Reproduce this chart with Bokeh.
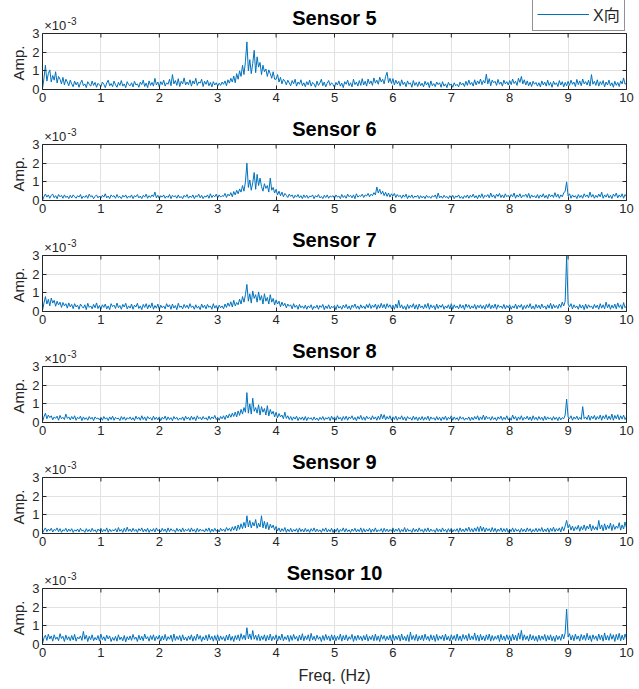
from bokeh.plotting import figure
from bokeh.layouts import column
from bokeh.models import (Range1d, FixedTicker, LinearAxis, Label, Legend,
                          LegendItem, CustomJSTickFormatter, Span, Title)
from bokeh.embed import file_html
from bokeh.resources import INLINE

# ---------------- data (amplitude in units of 1e-3) ----------------
freq = [round(i * 0.025, 3) for i in range(401)]   # frequency grid, Hz

titles = ["Sensor 5", "Sensor 6", "Sensor 7", "Sensor 8", "Sensor 9", "Sensor 10"]
x_ticks = [0, 1, 2, 3, 4, 5, 6, 7, 8, 9, 10]
y_ticks = [0, 1, 2, 3]
legend_label = "X向"

s5 = [0.05, 0.60, 1.30, 0.45, 0.85, 1.05, 0.40, 0.75, 0.50, 0.95, 0.35, 0.70, 0.55, 0.30, 0.65, 0.25, 0.55, 0.40, 0.20, 0.50,
      0.30, 0.15, 0.45, 0.25, 0.40, 0.12, 0.35, 0.50, 0.20, 0.30, 0.10, 0.42, 0.28, 0.18, 0.45, 0.22, 0.38, 0.12, 0.33, 0.25,
      0.15, 0.40, 0.28, 0.10, 0.35, 0.50, 0.20, 0.32, 0.15, 0.45, 0.25, 0.12, 0.38, 0.22, 0.48, 0.18, 0.30, 0.10, 0.42, 0.26,
      0.20, 0.36, 0.14, 0.44, 0.24, 0.30, 0.12, 0.40, 0.26, 0.50, 0.16, 0.34, 0.10, 0.46, 0.22, 0.38, 0.18, 0.60, 0.24, 0.40,
      0.14, 0.42, 0.26, 0.50, 0.18, 0.36, 0.28, 0.55, 0.20, 0.80, 0.30, 0.48, 0.22, 0.58, 0.16, 0.44, 0.30, 0.62, 0.24, 0.40,
      0.26, 0.52, 0.18, 0.46, 0.30, 0.60, 0.22, 0.40, 0.34, 0.55, 0.16, 0.44, 0.28, 0.50, 0.20, 0.38, 0.14, 0.42, 0.24, 0.36,
      0.18, 0.34, 0.22, 0.40, 0.28, 0.46, 0.20, 0.52, 0.34, 0.60, 0.40, 0.72, 0.36, 0.85, 0.55, 1.00, 0.70, 1.30, 0.80, 1.50,
      2.55, 1.00, 1.60, 0.85, 1.40, 2.10, 0.90, 1.75, 1.20, 1.45, 0.80, 1.30, 0.95, 1.10, 0.70, 1.05, 0.85, 0.60, 0.95, 0.55,
      0.55, 0.80, 0.40, 0.65, 0.30, 0.55, 0.45, 0.25, 0.50, 0.35, 0.20, 0.48, 0.30, 0.55, 0.18, 0.40, 0.28, 0.52, 0.20, 0.36,
      0.15, 0.42, 0.25, 0.50, 0.18, 0.38, 0.30, 0.12, 0.45, 0.22, 0.35, 0.55, 0.20, 0.40, 0.14, 0.33, 0.48, 0.22, 0.36, 0.26,
      0.12, 0.38, 0.24, 0.46, 0.18, 0.34, 0.10, 0.42, 0.28, 0.50, 0.20, 0.36, 0.14, 0.55, 0.26, 0.40, 0.18, 0.48, 0.22, 0.58,
      0.24, 0.44, 0.18, 0.56, 0.30, 0.46, 0.22, 0.62, 0.34, 0.50, 0.28, 0.66, 0.40, 0.55, 0.30, 0.70, 0.92, 0.36, 0.60, 0.32,
      0.58, 0.24, 0.50, 0.30, 0.44, 0.18, 0.52, 0.26, 0.40, 0.15, 0.46, 0.28, 0.36, 0.12, 0.48, 0.22, 0.38, 0.16, 0.42, 0.20,
      0.34, 0.14, 0.44, 0.24, 0.38, 0.10, 0.46, 0.20, 0.32, 0.15, 0.40, 0.26, 0.36, 0.12, 0.42, 0.18, 0.30, 0.10, 0.38, 0.22,
      0.30, 0.12, 0.36, 0.20, 0.28, 0.14, 0.40, 0.24, 0.34, 0.16, 0.44, 0.22, 0.50, 0.26, 0.38, 0.18, 0.52, 0.24, 0.46, 0.30,
      0.56, 0.26, 0.48, 0.34, 0.82, 0.30, 0.58, 0.20, 0.50, 0.36, 0.44, 0.22, 0.54, 0.28, 0.40, 0.18, 0.50, 0.30, 0.42, 0.24,
      0.48, 0.26, 0.56, 0.32, 0.44, 0.22, 0.60, 0.38, 0.70, 0.30, 0.52, 0.24, 0.46, 0.20, 0.40, 0.16, 0.44, 0.28, 0.38, 0.18,
      0.36, 0.14, 0.46, 0.24, 0.40, 0.18, 0.50, 0.22, 0.38, 0.12, 0.44, 0.26, 0.36, 0.16, 0.48, 0.24, 0.42, 0.14, 0.38, 0.20,
      0.44, 0.22, 0.50, 0.28, 0.40, 0.16, 0.54, 0.26, 0.46, 0.20, 0.56, 0.30, 0.42, 0.24, 0.50, 0.18, 0.80, 0.28, 0.44, 0.22,
      0.52, 0.18, 0.42, 0.26, 0.48, 0.14, 0.40, 0.24, 0.50, 0.20, 0.36, 0.12, 0.44, 0.22, 0.38, 0.16, 0.46, 0.30, 0.62, 0.28,
      0.35]

s6 = [0.02, 0.20, 0.35, 0.18, 0.30, 0.12, 0.28, 0.34, 0.15, 0.26, 0.10, 0.32, 0.20, 0.28, 0.12, 0.30, 0.16, 0.24, 0.10, 0.28,
      0.14, 0.30, 0.20, 0.12, 0.26, 0.18, 0.32, 0.10, 0.24, 0.16, 0.28, 0.12, 0.34, 0.20, 0.26, 0.10, 0.22, 0.30, 0.14, 0.24,
      0.12, 0.28, 0.18, 0.36, 0.14, 0.24, 0.10, 0.30, 0.20, 0.26, 0.12, 0.32, 0.16, 0.22, 0.10, 0.28, 0.18, 0.30, 0.12, 0.24,
      0.16, 0.30, 0.10, 0.26, 0.20, 0.32, 0.14, 0.24, 0.10, 0.28, 0.18, 0.34, 0.12, 0.26, 0.16, 0.30, 0.20, 0.45, 0.14, 0.28,
      0.10, 0.26, 0.18, 0.30, 0.12, 0.24, 0.16, 0.32, 0.10, 0.28, 0.20, 0.26, 0.12, 0.30, 0.14, 0.22, 0.10, 0.28, 0.18, 0.32,
      0.12, 0.24, 0.16, 0.30, 0.10, 0.26, 0.20, 0.34, 0.14, 0.28, 0.10, 0.24, 0.18, 0.30, 0.12, 0.36, 0.16, 0.28, 0.20, 0.34,
      0.14, 0.30, 0.18, 0.26, 0.22, 0.38, 0.16, 0.34, 0.24, 0.42, 0.20, 0.48, 0.30, 0.55, 0.36, 0.62, 0.45, 0.80, 0.50, 1.00,
      2.00, 0.70, 1.10, 0.55, 0.95, 1.50, 0.60, 1.40, 0.80, 1.20, 0.75, 0.50, 0.90, 0.65, 0.80, 0.45, 1.20, 0.55, 0.70, 0.40,
      0.60, 0.30, 0.50, 0.25, 0.45, 0.20, 0.38, 0.28, 0.16, 0.34, 0.22, 0.30, 0.12, 0.28, 0.18, 0.32, 0.14, 0.26, 0.10, 0.30,
      0.16, 0.28, 0.12, 0.24, 0.20, 0.30, 0.10, 0.26, 0.18, 0.32, 0.14, 0.22, 0.10, 0.28, 0.16, 0.30, 0.12, 0.24, 0.20, 0.26,
      0.12, 0.30, 0.18, 0.24, 0.10, 0.32, 0.16, 0.26, 0.12, 0.34, 0.20, 0.28, 0.14, 0.30, 0.10, 0.36, 0.18, 0.26, 0.22, 0.34,
      0.16, 0.30, 0.24, 0.38, 0.20, 0.34, 0.26, 0.42, 0.30, 0.72, 0.40, 0.60, 0.34, 0.50, 0.26, 0.44, 0.22, 0.40, 0.18, 0.36,
      0.24, 0.38, 0.16, 0.32, 0.20, 0.28, 0.12, 0.30, 0.18, 0.34, 0.10, 0.26, 0.16, 0.30, 0.12, 0.24, 0.18, 0.28, 0.10, 0.26,
      0.14, 0.24, 0.10, 0.28, 0.16, 0.22, 0.12, 0.26, 0.18, 0.30, 0.10, 0.40, 0.14, 0.24, 0.12, 0.28, 0.16, 0.22, 0.10, 0.26,
      0.14, 0.28, 0.10, 0.24, 0.18, 0.30, 0.12, 0.22, 0.10, 0.26, 0.16, 0.30, 0.12, 0.28, 0.18, 0.34, 0.14, 0.26, 0.10, 0.30,
      0.16, 0.36, 0.12, 0.28, 0.20, 0.32, 0.14, 0.40, 0.18, 0.30, 0.12, 0.34, 0.22, 0.38, 0.16, 0.30, 0.14, 0.36, 0.20, 0.28,
      0.14, 0.32, 0.20, 0.40, 0.12, 0.30, 0.18, 0.36, 0.14, 0.28, 0.22, 0.34, 0.16, 0.38, 0.12, 0.30, 0.18, 0.26, 0.14, 0.32,
      0.12, 0.30, 0.18, 0.36, 0.14, 0.28, 0.10, 0.34, 0.20, 0.30, 0.16, 0.42, 0.18, 0.34, 0.12, 0.30, 0.20, 0.40, 0.50, 1.00,
      0.25, 0.36, 0.12, 0.30, 0.18, 0.26, 0.10, 0.32, 0.16, 0.28, 0.12, 0.36, 0.20, 0.30, 0.14, 0.45, 0.18, 0.32, 0.12, 0.28,
      0.16, 0.34, 0.20, 0.45, 0.12, 0.30, 0.18, 0.36, 0.14, 0.28, 0.10, 0.34, 0.22, 0.40, 0.14, 0.30, 0.18, 0.36, 0.12, 0.32,
      0.20]

s7 = [0.05, 0.45, 0.80, 0.40, 0.65, 0.30, 0.72, 0.45, 0.60, 0.28, 0.55, 0.35, 0.50, 0.22, 0.48, 0.30, 0.42, 0.18, 0.46, 0.25,
      0.38, 0.15, 0.42, 0.24, 0.34, 0.12, 0.40, 0.28, 0.18, 0.36, 0.10, 0.44, 0.22, 0.30, 0.14, 0.38, 0.20, 0.46, 0.16, 0.32,
      0.12, 0.36, 0.22, 0.40, 0.14, 0.30, 0.10, 0.42, 0.26, 0.34, 0.16, 0.45, 0.20, 0.32, 0.12, 0.38, 0.24, 0.44, 0.14, 0.30,
      0.18, 0.40, 0.12, 0.34, 0.24, 0.44, 0.16, 0.30, 0.10, 0.38, 0.22, 0.42, 0.14, 0.36, 0.20, 0.46, 0.12, 0.32, 0.18, 0.40,
      0.10, 0.34, 0.20, 0.30, 0.14, 0.42, 0.24, 0.36, 0.12, 0.40, 0.18, 0.32, 0.10, 0.44, 0.22, 0.30, 0.14, 0.38, 0.20, 0.34,
      0.16, 0.42, 0.22, 0.30, 0.12, 0.36, 0.18, 0.28, 0.10, 0.40, 0.20, 0.34, 0.14, 0.38, 0.22, 0.30, 0.12, 0.42, 0.18, 0.32,
      0.10, 0.34, 0.20, 0.30, 0.14, 0.40, 0.22, 0.46, 0.28, 0.52, 0.24, 0.60, 0.30, 0.48, 0.36, 0.66, 0.40, 0.80, 0.50, 0.90,
      1.45, 0.55, 0.95, 0.45, 1.10, 0.70, 0.90, 0.50, 1.05, 0.60, 0.85, 0.40, 0.95, 0.55, 0.75, 0.40, 0.90, 0.50, 0.70, 0.35,
      0.62, 0.40, 0.55, 0.25, 0.50, 0.30, 0.44, 0.20, 0.40, 0.28, 0.36, 0.14, 0.42, 0.22, 0.34, 0.12, 0.38, 0.20, 0.30, 0.16,
      0.34, 0.12, 0.30, 0.20, 0.36, 0.10, 0.28, 0.18, 0.34, 0.12, 0.32, 0.22, 0.38, 0.10, 0.30, 0.16, 0.36, 0.14, 0.28, 0.20,
      0.32, 0.10, 0.36, 0.18, 0.28, 0.12, 0.34, 0.20, 0.38, 0.14, 0.30, 0.10, 0.34, 0.22, 0.40, 0.16, 0.30, 0.12, 0.36, 0.18,
      0.30, 0.14, 0.38, 0.20, 0.42, 0.16, 0.34, 0.22, 0.40, 0.12, 0.36, 0.18, 0.44, 0.20, 0.38, 0.14, 0.42, 0.22, 0.36, 0.16,
      0.34, 0.12, 0.40, 0.18, 0.60, 0.20, 0.36, 0.14, 0.30, 0.10, 0.38, 0.16, 0.34, 0.22, 0.42, 0.14, 0.36, 0.12, 0.40, 0.20,
      0.30, 0.14, 0.38, 0.18, 0.44, 0.12, 0.36, 0.20, 0.32, 0.10, 0.40, 0.16, 0.34, 0.22, 0.38, 0.12, 0.30, 0.18, 0.36, 0.14,
      0.42, 0.12, 0.36, 0.20, 0.30, 0.14, 0.38, 0.18, 0.34, 0.10, 0.40, 0.22, 0.36, 0.14, 0.30, 0.18, 0.38, 0.12, 0.34, 0.20,
      0.36, 0.16, 0.32, 0.12, 0.38, 0.20, 0.42, 0.14, 0.34, 0.18, 0.40, 0.12, 0.36, 0.22, 0.30, 0.16, 0.38, 0.14, 0.32, 0.20,
      0.36, 0.12, 0.30, 0.18, 0.40, 0.14, 0.34, 0.22, 0.38, 0.10, 0.32, 0.16, 0.36, 0.20, 0.42, 0.14, 0.30, 0.12, 0.38, 0.18,
      0.34, 0.14, 0.40, 0.20, 0.30, 0.12, 0.36, 0.18, 0.44, 0.14, 0.38, 0.20, 0.32, 0.16, 0.40, 0.22, 0.50, 0.30, 0.55, 3.00,
      0.40, 0.25, 0.42, 0.14, 0.36, 0.20, 0.30, 0.12, 0.38, 0.18, 0.34, 0.10, 0.40, 0.16, 0.36, 0.22, 0.30, 0.14, 0.38, 0.20,
      0.34, 0.12, 0.42, 0.18, 0.36, 0.14, 0.50, 0.20, 0.38, 0.12, 0.34, 0.18, 0.40, 0.14, 0.46, 0.22, 0.36, 0.12, 0.48, 0.20,
      0.30]

s8 = [0.05, 0.30, 0.50, 0.20, 0.40, 0.26, 0.36, 0.14, 0.30, 0.22, 0.34, 0.12, 0.38, 0.20, 0.28, 0.16, 0.45, 0.22, 0.30, 0.14,
      0.32, 0.18, 0.36, 0.12, 0.28, 0.20, 0.34, 0.10, 0.30, 0.16, 0.26, 0.12, 0.32, 0.18, 0.28, 0.10, 0.30, 0.20, 0.24, 0.14,
      0.28, 0.12, 0.32, 0.18, 0.26, 0.10, 0.30, 0.16, 0.34, 0.12, 0.28, 0.20, 0.24, 0.10, 0.32, 0.16, 0.30, 0.12, 0.26, 0.18,
      0.30, 0.14, 0.26, 0.10, 0.34, 0.18, 0.28, 0.12, 0.36, 0.16, 0.30, 0.10, 0.32, 0.20, 0.26, 0.12, 0.34, 0.16, 0.28, 0.14,
      0.30, 0.10, 0.28, 0.18, 0.34, 0.12, 0.30, 0.16, 0.26, 0.10, 0.32, 0.18, 0.28, 0.12, 0.24, 0.16, 0.30, 0.10, 0.34, 0.18,
      0.28, 0.12, 0.34, 0.16, 0.30, 0.10, 0.36, 0.20, 0.28, 0.14, 0.32, 0.18, 0.26, 0.12, 0.34, 0.16, 0.30, 0.20, 0.38, 0.16,
      0.28, 0.12, 0.32, 0.20, 0.36, 0.16, 0.40, 0.24, 0.46, 0.28, 0.50, 0.32, 0.56, 0.30, 0.62, 0.38, 0.70, 0.45, 0.80, 0.55,
      1.60, 0.50, 1.00, 0.45, 1.30, 0.60, 0.80, 0.50, 0.95, 0.40, 0.85, 0.55, 0.75, 0.40, 0.90, 0.35, 0.70, 0.45, 0.60, 0.30,
      0.55, 0.25, 0.48, 0.30, 0.40, 0.20, 0.55, 0.22, 0.36, 0.16, 0.32, 0.12, 0.30, 0.18, 0.34, 0.10, 0.28, 0.16, 0.30, 0.12,
      0.32, 0.10, 0.28, 0.18, 0.26, 0.12, 0.30, 0.14, 0.24, 0.10, 0.28, 0.16, 0.32, 0.12, 0.26, 0.18, 0.30, 0.10, 0.34, 0.16,
      0.30, 0.12, 0.36, 0.18, 0.28, 0.10, 0.32, 0.16, 0.34, 0.12, 0.30, 0.20, 0.36, 0.14, 0.28, 0.10, 0.32, 0.18, 0.38, 0.14,
      0.30, 0.12, 0.34, 0.20, 0.28, 0.14, 0.36, 0.18, 0.30, 0.12, 0.34, 0.16, 0.45, 0.20, 0.42, 0.14, 0.32, 0.18, 0.36, 0.12,
      0.30, 0.16, 0.34, 0.12, 0.28, 0.18, 0.36, 0.14, 0.30, 0.10, 0.32, 0.20, 0.26, 0.12, 0.34, 0.16, 0.30, 0.10, 0.28, 0.14,
      0.32, 0.12, 0.28, 0.16, 0.34, 0.10, 0.30, 0.18, 0.26, 0.12, 0.32, 0.14, 0.28, 0.10, 0.30, 0.16, 0.34, 0.12, 0.28, 0.18,
      0.36, 0.12, 0.30, 0.16, 0.26, 0.10, 0.32, 0.18, 0.28, 0.12, 0.24, 0.16, 0.30, 0.10, 0.28, 0.14, 0.32, 0.18, 0.36, 0.12,
      0.30, 0.16, 0.40, 0.14, 0.34, 0.20, 0.28, 0.12, 0.32, 0.16, 0.26, 0.10, 0.30, 0.18, 0.34, 0.12, 0.28, 0.16, 0.36, 0.14,
      0.26, 0.12, 0.40, 0.18, 0.32, 0.10, 0.30, 0.16, 0.36, 0.12, 0.28, 0.18, 0.34, 0.14, 0.30, 0.10, 0.36, 0.16, 0.28, 0.12,
      0.32, 0.16, 0.28, 0.10, 0.34, 0.14, 0.30, 0.18, 0.26, 0.12, 0.32, 0.16, 0.28, 0.10, 0.30, 0.14, 0.26, 0.20, 0.40, 1.25,
      0.30, 0.20, 0.36, 0.12, 0.30, 0.18, 0.34, 0.14, 0.28, 0.16, 0.85, 0.20, 0.30, 0.16, 0.40, 0.12, 0.34, 0.20, 0.38, 0.14,
      0.32, 0.18, 0.40, 0.12, 0.36, 0.20, 0.42, 0.14, 0.34, 0.16, 0.45, 0.12, 0.38, 0.20, 0.42, 0.14, 0.36, 0.18, 0.40, 0.16,
      0.30]

s9 = [0.02, 0.18, 0.30, 0.10, 0.24, 0.14, 0.28, 0.08, 0.22, 0.16, 0.30, 0.10, 0.26, 0.06, 0.20, 0.14, 0.28, 0.08, 0.24, 0.12,
      0.26, 0.06, 0.20, 0.12, 0.24, 0.08, 0.28, 0.14, 0.18, 0.06, 0.26, 0.10, 0.22, 0.08, 0.28, 0.12, 0.20, 0.06, 0.24, 0.14,
      0.28, 0.08, 0.22, 0.12, 0.30, 0.06, 0.24, 0.10, 0.20, 0.14, 0.26, 0.08, 0.32, 0.12, 0.22, 0.06, 0.28, 0.10, 0.34, 0.12,
      0.24, 0.08, 0.28, 0.12, 0.22, 0.06, 0.26, 0.14, 0.30, 0.08, 0.24, 0.10, 0.28, 0.06, 0.22, 0.12, 0.26, 0.08, 0.30, 0.14,
      0.22, 0.08, 0.28, 0.12, 0.24, 0.06, 0.30, 0.10, 0.26, 0.14, 0.20, 0.06, 0.28, 0.12, 0.24, 0.08, 0.30, 0.10, 0.22, 0.14,
      0.26, 0.08, 0.30, 0.12, 0.22, 0.06, 0.28, 0.10, 0.24, 0.14, 0.20, 0.08, 0.26, 0.12, 0.30, 0.06, 0.24, 0.10, 0.28, 0.12,
      0.22, 0.08, 0.28, 0.14, 0.24, 0.10, 0.32, 0.16, 0.28, 0.12, 0.36, 0.18, 0.40, 0.14, 0.46, 0.22, 0.52, 0.26, 0.60, 0.30,
      0.95, 0.35, 0.70, 0.30, 0.60, 0.40, 0.75, 0.28, 0.55, 0.35, 0.95, 0.30, 0.65, 0.25, 0.60, 0.20, 0.50, 0.30, 0.45, 0.18,
      0.38, 0.14, 0.30, 0.08, 0.26, 0.12, 0.32, 0.06, 0.24, 0.10, 0.28, 0.08, 0.22, 0.12, 0.26, 0.06, 0.30, 0.10, 0.24, 0.08,
      0.28, 0.10, 0.22, 0.06, 0.26, 0.12, 0.30, 0.08, 0.24, 0.10, 0.20, 0.06, 0.26, 0.12, 0.30, 0.08, 0.22, 0.10, 0.28, 0.06,
      0.24, 0.10, 0.28, 0.06, 0.22, 0.12, 0.30, 0.08, 0.26, 0.10, 0.20, 0.06, 0.24, 0.12, 0.28, 0.08, 0.22, 0.10, 0.30, 0.06,
      0.26, 0.08, 0.22, 0.12, 0.28, 0.06, 0.24, 0.10, 0.30, 0.08, 0.20, 0.12, 0.26, 0.06, 0.28, 0.10, 0.24, 0.08, 0.22, 0.12,
      0.30, 0.08, 0.24, 0.12, 0.28, 0.06, 0.22, 0.10, 0.32, 0.08, 0.26, 0.12, 0.20, 0.06, 0.28, 0.10, 0.24, 0.08, 0.30, 0.12,
      0.22, 0.06, 0.26, 0.10, 0.30, 0.08, 0.24, 0.12, 0.20, 0.06, 0.28, 0.10, 0.24, 0.08, 0.30, 0.12, 0.22, 0.06, 0.26, 0.10,
      0.28, 0.08, 0.22, 0.12, 0.26, 0.06, 0.30, 0.10, 0.24, 0.08, 0.28, 0.12, 0.34, 0.10, 0.26, 0.08, 0.30, 0.12, 0.36, 0.10,
      0.40, 0.12, 0.34, 0.08, 0.30, 0.14, 0.26, 0.08, 0.32, 0.10, 0.28, 0.06, 0.24, 0.12, 0.30, 0.08, 0.26, 0.10, 0.28, 0.06,
      0.24, 0.10, 0.30, 0.08, 0.26, 0.12, 0.22, 0.06, 0.28, 0.10, 0.24, 0.08, 0.30, 0.12, 0.26, 0.06, 0.22, 0.10, 0.28, 0.08,
      0.26, 0.12, 0.32, 0.08, 0.24, 0.10, 0.30, 0.06, 0.28, 0.12, 0.34, 0.10, 0.26, 0.14, 0.30, 0.08, 0.36, 0.14, 0.40, 0.70,
      0.30, 0.48, 0.18, 0.40, 0.14, 0.36, 0.22, 0.44, 0.12, 0.38, 0.20, 0.46, 0.16, 0.40, 0.24, 0.50, 0.14, 0.42, 0.20, 0.36,
      0.18, 0.70, 0.24, 0.46, 0.14, 0.52, 0.20, 0.44, 0.26, 0.56, 0.16, 0.48, 0.22, 0.40, 0.28, 0.58, 0.18, 0.46, 0.24, 0.62,
      0.30]

s10 = [0.05, 0.35, 0.50, 0.22, 0.55, 0.30, 0.46, 0.18, 0.52, 0.28, 0.40, 0.20, 0.58, 0.32, 0.44, 0.16, 0.50, 0.26, 0.42, 0.20,
       0.48, 0.24, 0.54, 0.18, 0.40, 0.30, 0.46, 0.22, 0.70, 0.28, 0.50, 0.16, 0.44, 0.26, 0.52, 0.20, 0.38, 0.24, 0.48, 0.18,
       0.56, 0.26, 0.42, 0.20, 0.50, 0.30, 0.46, 0.16, 0.38, 0.22, 0.44, 0.18, 0.52, 0.26, 0.40, 0.20, 0.48, 0.14, 0.42, 0.24,
       0.46, 0.22, 0.54, 0.28, 0.40, 0.16, 0.50, 0.24, 0.44, 0.20, 0.56, 0.30, 0.42, 0.18, 0.48, 0.26, 0.52, 0.20, 0.44, 0.28,
       0.50, 0.18, 0.46, 0.24, 0.54, 0.20, 0.42, 0.28, 0.50, 0.16, 0.56, 0.22, 0.44, 0.26, 0.48, 0.18, 0.52, 0.24, 0.40, 0.20,
       0.46, 0.26, 0.52, 0.18, 0.44, 0.22, 0.56, 0.28, 0.48, 0.16, 0.42, 0.24, 0.50, 0.20, 0.54, 0.26, 0.44, 0.18, 0.48, 0.22,
       0.52, 0.20, 0.46, 0.26, 0.42, 0.18, 0.50, 0.24, 0.56, 0.22, 0.44, 0.16, 0.48, 0.26, 0.52, 0.20, 0.58, 0.28, 0.50, 0.24,
       0.90, 0.30, 0.56, 0.26, 0.75, 0.28, 0.50, 0.22, 0.54, 0.20, 0.46, 0.26, 0.52, 0.18, 0.48, 0.24, 0.56, 0.20, 0.44, 0.26,
       0.52, 0.18, 0.46, 0.24, 0.56, 0.20, 0.42, 0.26, 0.50, 0.16, 0.48, 0.22, 0.54, 0.28, 0.44, 0.18, 0.50, 0.24, 0.58, 0.20,
       0.46, 0.26, 0.52, 0.18, 0.60, 0.24, 0.44, 0.20, 0.50, 0.28, 0.42, 0.16, 0.48, 0.22, 0.54, 0.26, 0.46, 0.18, 0.52, 0.24,
       0.50, 0.20, 0.44, 0.26, 0.56, 0.18, 0.48, 0.24, 0.52, 0.20, 0.42, 0.28, 0.54, 0.16, 0.46, 0.22, 0.50, 0.26, 0.44, 0.20,
       0.48, 0.24, 0.54, 0.18, 0.44, 0.26, 0.50, 0.20, 0.56, 0.22, 0.46, 0.16, 0.52, 0.28, 0.48, 0.20, 0.44, 0.24, 0.50, 0.18,
       0.54, 0.22, 0.46, 0.26, 0.50, 0.18, 0.56, 0.24, 0.44, 0.20, 0.52, 0.16, 0.66, 0.26, 0.48, 0.22, 0.54, 0.18, 0.46, 0.24,
       0.50, 0.20, 0.56, 0.26, 0.44, 0.18, 0.52, 0.24, 0.48, 0.16, 0.54, 0.22, 0.46, 0.28, 0.50, 0.20, 0.56, 0.24, 0.44, 0.18,
       0.52, 0.26, 0.48, 0.20, 0.56, 0.22, 0.46, 0.18, 0.54, 0.28, 0.50, 0.20, 0.58, 0.24, 0.46, 0.26, 0.62, 0.22, 0.50, 0.18,
       0.54, 0.24, 0.46, 0.20, 0.52, 0.26, 0.56, 0.18, 0.48, 0.22, 0.44, 0.28, 0.50, 0.16, 0.54, 0.24, 0.46, 0.20, 0.52, 0.26,
       0.48, 0.18, 0.56, 0.24, 0.50, 0.20, 0.62, 0.28, 0.76, 0.22, 0.52, 0.26, 0.46, 0.18, 0.54, 0.24, 0.48, 0.20, 0.44, 0.16,
       0.50, 0.22, 0.46, 0.26, 0.54, 0.18, 0.48, 0.24, 0.52, 0.20, 0.44, 0.16, 0.50, 0.26, 0.46, 0.22, 0.56, 0.30, 0.62, 1.90,
       0.40, 0.58, 0.24, 0.50, 0.20, 0.56, 0.28, 0.46, 0.18, 0.54, 0.26, 0.50, 0.22, 0.60, 0.24, 0.48, 0.16, 0.52, 0.28, 0.46,
       0.20, 0.56, 0.26, 0.50, 0.18, 0.62, 0.24, 0.48, 0.22, 0.58, 0.28, 0.52, 0.16, 0.54, 0.26, 0.60, 0.20, 0.50, 0.24, 0.56,
       0.30]

series = [s5, s6, s7, s8, s9, s10]

# ---------------- layout / styling ----------------
FONT = "Liberation Sans"
AXC = "#262626"
LINEC = "#0072BD"
GRIDC = "#e2e2e2"
HEAD_PX = 33      # pixels between the top of a panel and the top of its box
BOX_PX = 56       # box height in pixels
Y0, Y1 = y_ticks[0], y_ticks[-1]
X0, X1 = x_ticks[0], x_ticks[-1]
PX = (Y1 - Y0) / BOX_PX           # data units per pixel (vertical)
Y_TOP = Y1 + HEAD_PX * PX          # frame top includes the header strip


def above(px):
    """data y that lies px pixels above the top edge of the box"""
    return Y1 + px * PX


def style_axis(ax, ticks, labels=True):
    ax.ticker = FixedTicker(ticks=ticks)
    ax.major_tick_in = 4
    ax.major_tick_out = 0
    ax.minor_tick_in = 0
    ax.minor_tick_out = 0
    ax.axis_line_color = AXC
    ax.major_tick_line_color = AXC
    ax.major_label_text_font = FONT
    ax.major_label_text_font_size = "13px"
    ax.major_label_text_color = AXC
    ax.major_label_standoff = 3
    if not labels:
        ax.formatter = CustomJSTickFormatter(code="return ''")
        ax.major_label_text_font_size = "0px"
        ax.major_label_standoff = 0


figs = []
n = len(series)
for i, (title, vals) in enumerate(zip(titles, series)):
    last = (i == n - 1)
    bb = 45 if last else 22
    p = figure(width=639, height=HEAD_PX + BOX_PX + bb, title=None,
               x_range=Range1d(X0, X1), y_range=Range1d(Y0, Y_TOP),
               output_backend="svg", toolbar_location=None,
               min_border_left=42, min_border_right=13,
               min_border_top=0, min_border_bottom=bb)
    p.background_fill_color = "white"
    p.border_fill_color = "white"
    p.outline_line_color = None

    # grid limited to the box
    p.xgrid.ticker = FixedTicker(ticks=x_ticks)
    p.ygrid.ticker = FixedTicker(ticks=y_ticks)
    p.xgrid.grid_line_color = GRIDC
    p.ygrid.grid_line_color = GRIDC
    if "cross_bounds" in p.xgrid[0].properties():
        p.xgrid.cross_bounds = (Y0, Y1)
    else:
        p.xgrid.visible = False
        p.segment(x0=x_ticks, y0=[Y0] * len(x_ticks), x1=x_ticks,
                  y1=[Y1] * len(x_ticks), line_color=GRIDC, line_width=1)

    r = p.line(freq, vals, line_color=LINEC, line_width=1)

    # box: left / bottom / right axes plus a top edge with inward ticks
    style_axis(p.xaxis[0], x_ticks)
    style_axis(p.yaxis[0], y_ticks)
    p.yaxis[0].bounds = (Y0, Y1)
    if last:
        p.xaxis[0].axis_label = "Freq. (Hz)"
        p.xaxis[0].axis_label_text_font = FONT
        p.xaxis[0].axis_label_text_font_size = "16px"
        p.xaxis[0].axis_label_text_font_style = "normal"
        p.xaxis[0].axis_label_text_color = AXC
        p.xaxis[0].axis_label_standoff = 7

    # y label, placed along the box (the frame also holds the header strip)
    p.add_layout(Title(text="Amp.", align="left", offset=9,
                       standoff=5, text_font=FONT, text_font_size="15px",
                       text_font_style="normal", text_color=AXC), "left")

    ra = LinearAxis(bounds=(Y0, Y1))
    style_axis(ra, y_ticks, labels=False)
    p.add_layout(ra, "right")

    p.add_layout(Span(location=Y1, dimension="width", line_color=AXC, line_width=1))
    p.ray(x=x_ticks, y=[Y1] * len(x_ticks), length=4, length_units="screen",
          angle=-90, angle_units="deg", line_color=AXC, line_width=1)

    # header texts
    p.add_layout(Label(x=(X0 + X1) / 2, y=above(15.5), text=title, text_align="center",
                       text_baseline="middle", text_font=FONT,
                       text_font_size="20px", text_font_style="bold",
                       text_color="black"))
    p.add_layout(Label(x=X0 + 0.03, y=above(8.5), text="×10", text_align="left",
                       text_baseline="middle", text_font=FONT,
                       text_font_size="13px", text_color=AXC))
    p.add_layout(Label(x=X0 + 0.43, y=above(12.5), text="-3", text_align="left",
                       text_baseline="middle", text_font=FONT,
                       text_font_size="10px", text_color=AXC))

    if i == 0:
        leg = Legend(items=[LegendItem(label=legend_label, renderers=[r])],
                     location=(490, BOX_PX + 2))
        leg.border_line_color = AXC
        leg.border_line_width = 1
        leg.background_fill_color = "white"
        leg.background_fill_alpha = 1
        leg.label_text_font = "Liberation Sans, Noto Sans CJK SC"
        leg.label_text_font_size = "16px"
        leg.label_text_color = AXC
        leg.glyph_width = 52
        leg.glyph_height = 14
        leg.label_standoff = 4
        leg.label_height = 14
        leg.padding = 4
        leg.margin = 0
        leg.spacing = 0
        p.add_layout(leg)

    figs.append(p)

layout = column(*figs, spacing=0)
open("out.html", "w").write(file_html(layout, INLINE))
